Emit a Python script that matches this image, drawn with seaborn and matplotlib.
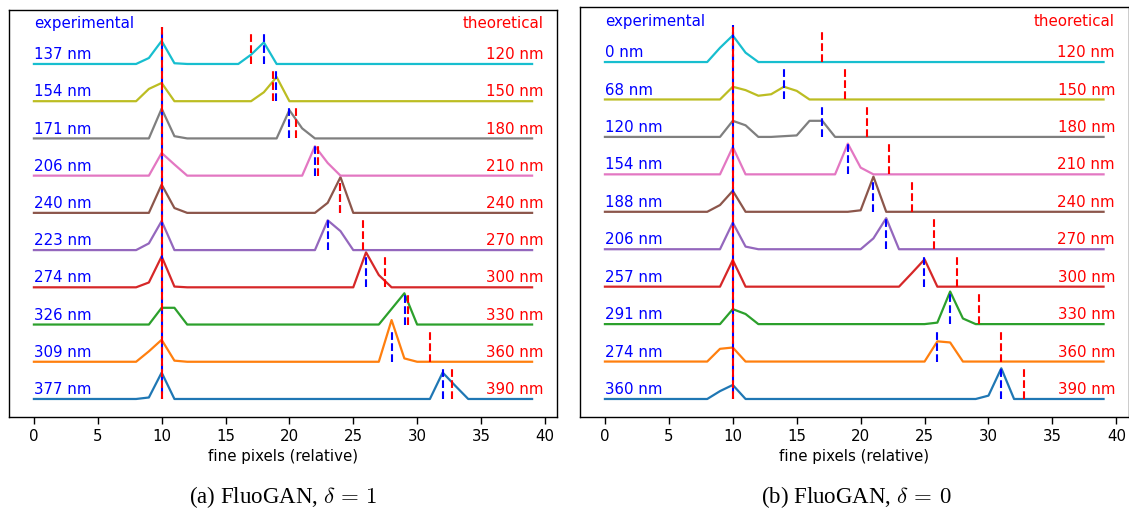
import numpy as np
import pandas as pd
import matplotlib
matplotlib.use("Agg")
import matplotlib.pyplot as plt
import seaborn as sns

# ---- data -------------------------------------------------------------
x_pixels = np.arange(40)                      # fine-pixel index of each profile
theoretical_nm = [120, 150, 180, 210, 240, 270, 300, 330, 360, 390]
fine_pixel_nm = 120 / 7                        # nm covered by one fine pixel
ref_peak = 10                                  # position of the reference emitter

# FluoGAN, delta = 1  (profiles listed from top row to bottom row)
exp_nm_d1 = [137, 154, 171, 206, 240, 223, 274, 326, 309, 377]
profiles_d1 = [
    {9: 0.16, 10: 0.62, 11: 0.02, 17: 0.25, 18: 0.58},
    {9: 0.33, 10: 0.49, 18: 0.24, 19: 0.65},
    {10: 0.80, 11: 0.06, 20: 0.76, 21: 0.27},
    {10: 0.61, 11: 0.30, 22: 0.79, 23: 0.34},
    {10: 0.76, 11: 0.13, 23: 0.27, 24: 0.96},
    {9: 0.18, 10: 0.78, 23: 0.80, 24: 0.51},
    {9: 0.13, 10: 0.83, 11: 0.02, 26: 0.94, 27: 0.33},
    {10: 0.45, 11: 0.45, 28: 0.42, 29: 0.84},
    {9: 0.28, 10: 0.59, 11: 0.03, 28: 1.12, 29: 0.09},
    {9: 0.04, 10: 0.71, 32: 0.71, 33: 0.35},
]

# FluoGAN, delta = 0
exp_nm_d0 = [0, 68, 120, 154, 188, 206, 257, 291, 274, 360]
profiles_d0 = [
    {9: 0.38, 10: 0.71, 11: 0.25},
    {10: 0.34, 11: 0.25, 12: 0.10, 13: 0.14, 14: 0.34, 15: 0.23},
    {10: 0.43, 11: 0.31, 14: 0.02, 15: 0.04, 16: 0.43, 17: 0.43},
    {10: 0.73, 19: 0.82, 20: 0.18},
    {9: 0.18, 10: 0.56, 20: 0.04, 21: 0.94},
    {10: 0.71, 11: 0.07, 21: 0.29, 22: 0.83},
    {10: 0.71, 24: 0.36, 25: 0.73},
    {10: 0.40, 11: 0.27, 26: 0.04, 27: 0.87, 28: 0.15},
    {9: 0.34, 10: 0.375, 26: 0.54, 27: 0.51},
    {9: 0.21, 10: 0.375, 30: 0.09, 31: 0.82},
]

captions = [r"(a) FluoGAN, $\delta\,=\,1$", r"(b) FluoGAN, $\delta\,=\,0$"]

# ---- styling ----------------------------------------------------------
plt.rcParams["font.family"] = ["DejaVu Sans"]
plt.rcParams["mathtext.fontset"] = "cm"
FS = 10.8
palette = sns.color_palette("tab10", 10)
SEG_H = 0.85
DASH = (3.7, 1.6)


def draw_panel(ax, exp_nm, profiles):
    n = len(profiles)
    rows = []
    for i, prof in enumerate(profiles):
        off = n - 1 - i
        for x in x_pixels:
            rows.append({"trace": str(off), "x": x, "y": off + prof.get(int(x), 0.0)})
    df = pd.DataFrame(rows)
    order = [str(k) for k in range(n)]
    sns.lineplot(data=df, x="x", y="y", hue="trace", hue_order=order,
                 palette=dict(zip(order, palette)), legend=False, ax=ax,
                 lw=1.6, estimator=None, sort=True)

    top = n - 1 + 1.0
    # reference emitter line
    ax.plot([ref_peak, ref_peak], [0, top], color="b", lw=1.5,
            ls=(2.65, DASH), zorder=5)
    ax.plot([ref_peak, ref_peak], [0, top], color="r", lw=1.5,
            ls=(0, DASH), zorder=6)

    for i, (e_nm, t_nm) in enumerate(zip(exp_nm, theoretical_nm)):
        off = n - 1 - i
        xe = ref_peak + e_nm / fine_pixel_nm
        xt = ref_peak + t_nm / fine_pixel_nm
        ax.plot([xe, xe], [off, off + SEG_H], color="b", lw=1.5,
                ls=(0, DASH), zorder=5)
        ax.plot([xt, xt], [off, off + SEG_H], color="r", lw=1.5,
                ls=(0, DASH), zorder=6)
        ax.text(0, off + 0.13, f"{e_nm} nm", color="b", fontsize=FS,
                ha="left", va="baseline")
        ax.text(39.9, off + 0.13, f"{t_nm} nm", color="r", fontsize=FS,
                ha="right", va="baseline")

    ax.text(0, n - 1 + 0.97, "experimental", color="b", fontsize=FS,
            ha="left", va="baseline")
    ax.text(39.9, n - 1 + 0.97, "theoretical", color="r", fontsize=FS,
            ha="right", va="baseline")

    ax.set_xlim(-1.95, 40.95)
    ax.set_xticks(np.arange(0, 41, 5))
    ax.set_yticks([])
    ax.set_ylabel("")
    ax.set_xlabel("fine pixels (relative)", fontsize=FS)
    ax.tick_params(axis="x", labelsize=FS, length=5, width=1)
    for sp in ax.spines.values():
        sp.set_color("black")
        sp.set_linewidth(1.0)


W, H = 1129, 511
fig = plt.figure(figsize=(W / 100, H / 100), dpi=100)
fig.patch.set_facecolor("white")

ax1 = fig.add_axes([9 / W, 1 - 417 / H, 548 / W, 407 / H])
ax2 = fig.add_axes([580 / W, 1 - 417 / H, 548.5 / W, 410 / H])

draw_panel(ax1, exp_nm_d1, profiles_d1)
draw_panel(ax2, exp_nm_d0, profiles_d0)
ax1.set_ylim(-0.484, 10.45)
ax2.set_ylim(-0.481, 10.47)

fig.text(283 / W, 1 - 497 / H, captions[0], fontsize=16.5,
         family="Liberation Serif", ha="center", va="center")
fig.text(856 / W, 1 - 497 / H, captions[1], fontsize=16.5,
         family="Liberation Serif", ha="center", va="center")

fig.savefig("out.png", dpi=100, facecolor="white")
